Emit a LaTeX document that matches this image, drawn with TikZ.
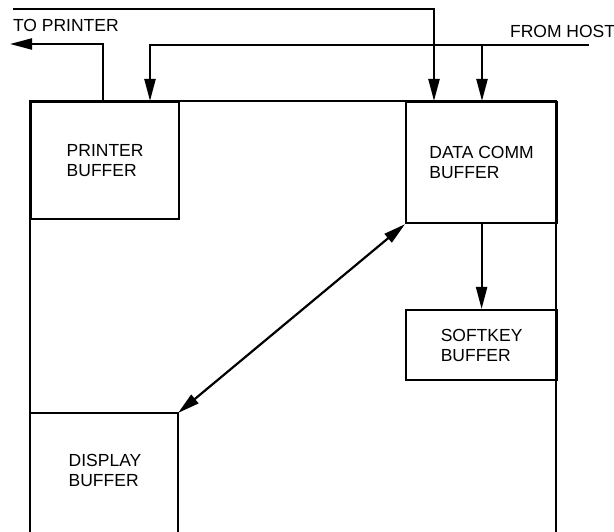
\documentclass[tikz,border=0pt]{standalone}
\usepackage{fontspec}
\setmainfont{Liberation Sans}
\usetikzlibrary{arrows.meta,calc}
\begin{document}
\begin{tikzpicture}[x=1pt,y=-1pt,
  line width=2.2pt,
  every node/.style={font=\fontsize{17.5}{20}\selectfont},
  bufbox/.style={draw,line width=2.2pt,anchor=north west,align=left,inner sep=0pt},
  txt/.style={align=left,inner sep=0pt},
  tip/.style={-{Triangle[length=22pt,width=11pt]}},
  dtip/.style={{Triangle[length=22pt,width=11pt]}-{Triangle[length=22pt,width=11pt]}}]
\useasboundingbox (0,0) rectangle (614,532);
% outer frame
\draw (30,540) -- (30,101) -- (556,101) -- (556,540);
% boxes
\node[bufbox,minimum width=148pt,minimum height=117pt] (prbuf) at (30,101) {PRINTER\\BUFFER};
\node[bufbox,minimum width=151pt,minimum height=121pt] (dcbuf) at (405,101) {DATA COMM\\BUFFER};
\node[bufbox,minimum width=151pt,minimum height=70pt] (skbuf) at (405,309) {SOFTKEY\\BUFFER};
\node[txt] (dsbuf) at (105,470) {DISPLAY\\BUFFER};
\coordinate (dsc) at (178,413);
\draw (30,413) -- (dsc) -- (178,540);
% labels
\node[txt,anchor=base west] (toprn) at (12,32) {TO PRINTER};
\node[txt,anchor=base west] (fromhost) at (509,38) {FROM HOST};
% coordinates
\coordinate (hostend) at (589,45);
\coordinate (prin) at (150,101);
\coordinate (hostbr) at (482,45);
\coordinate (dcin2) at (482,101);
\coordinate (topstart) at (13,9);
\coordinate (dcin1) at (434,101);
\coordinate (prout) at (103,101);
\coordinate (prend) at (10,44);
% connectors
\draw[tip] (hostend) -| (prin);
\draw[tip] (hostbr) -- (dcin2);
\draw[tip] (topstart) -| (dcin1);
\draw[tip] (prout) |- (prend);
\draw[dtip] (dsc) -- (dcbuf.south west);
\draw[tip] (dcbuf.south) -- (skbuf.north);
\end{tikzpicture}
\end{document}
